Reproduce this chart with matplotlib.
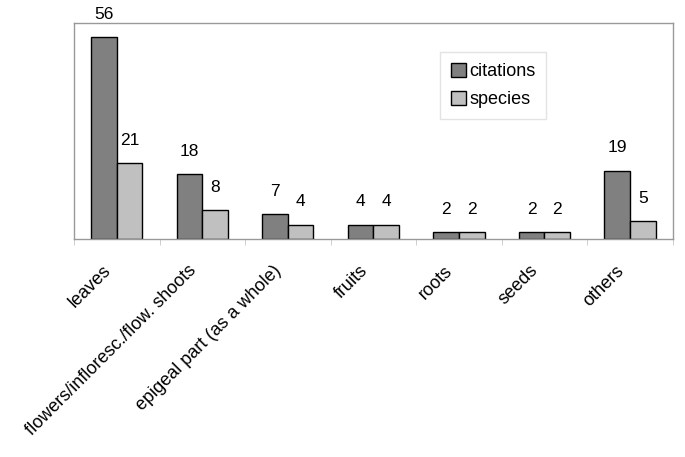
import numpy as np
from matplotlib import pyplot as plt
from matplotlib import transforms

plt.rcParams['font.family'] = ['Liberation Sans', 'DejaVu Sans']

categories = ['leaves', 'flowers/infloresc./flow. shoots', 'epigeal part (as a whole)',
              'fruits', 'roots', 'seeds', 'others']
citations = [56, 18, 7, 4, 2, 2, 19]
species = [21, 8, 4, 4, 2, 2, 5]

x = np.arange(len(categories))
w = 0.3

fig = plt.figure(figsize=(6.85, 4.57), dpi=100)
ax = fig.add_axes([0.108, 0.477, 0.874, 0.473])

b1 = ax.bar(x - w / 2, citations, w, color='#808080', edgecolor='black', linewidth=1, label='citations')
b2 = ax.bar(x + w / 2, species, w, color='#c0c0c0', edgecolor='black', linewidth=1, label='species')

# Value labels above bars
for bars in (b1, b2):
    for bar in bars:
        ax.annotate(f"{int(bar.get_height())}",
                    (bar.get_x() + bar.get_width() / 2, bar.get_height()),
                    xytext=(0, 11), textcoords='offset points',
                    ha='center', va='bottom', fontsize=12.5)

ax.set_xlim(-0.5, len(categories) - 0.5)
ax.set_ylim(0, 60)
ax.set_yticks([])

ax.set_xticks(x)
ax.set_xticklabels(categories, rotation=45, ha='right', va='center_baseline',
                   rotation_mode='anchor', fontsize=13)
ax.set_xticks(np.arange(len(categories) + 1) - 0.5, minor=True)
ax.tick_params(axis='x', which='major', length=0, pad=20)
ax.tick_params(axis='x', which='minor', length=4, color='#c8c8c8', direction='out')

# shift labels a little to the left
shift = transforms.ScaledTranslation(-0.1, 0, fig.dpi_scale_trans)
for lab in ax.get_xticklabels():
    lab.set_transform(lab.get_transform() + shift)

for s in ax.spines.values():
    s.set_color('#999999')
    s.set_linewidth(1)

leg = ax.legend(loc='upper left', bbox_to_anchor=(0.612, 0.865), fontsize=13,
                frameon=True, fancybox=False, edgecolor='#dddddd',
                handlelength=0.8, handleheight=0.8, handletextpad=0.2,
                labelspacing=0.6, borderpad=0.6, borderaxespad=0)

plt.savefig('out.png', dpi=100)
